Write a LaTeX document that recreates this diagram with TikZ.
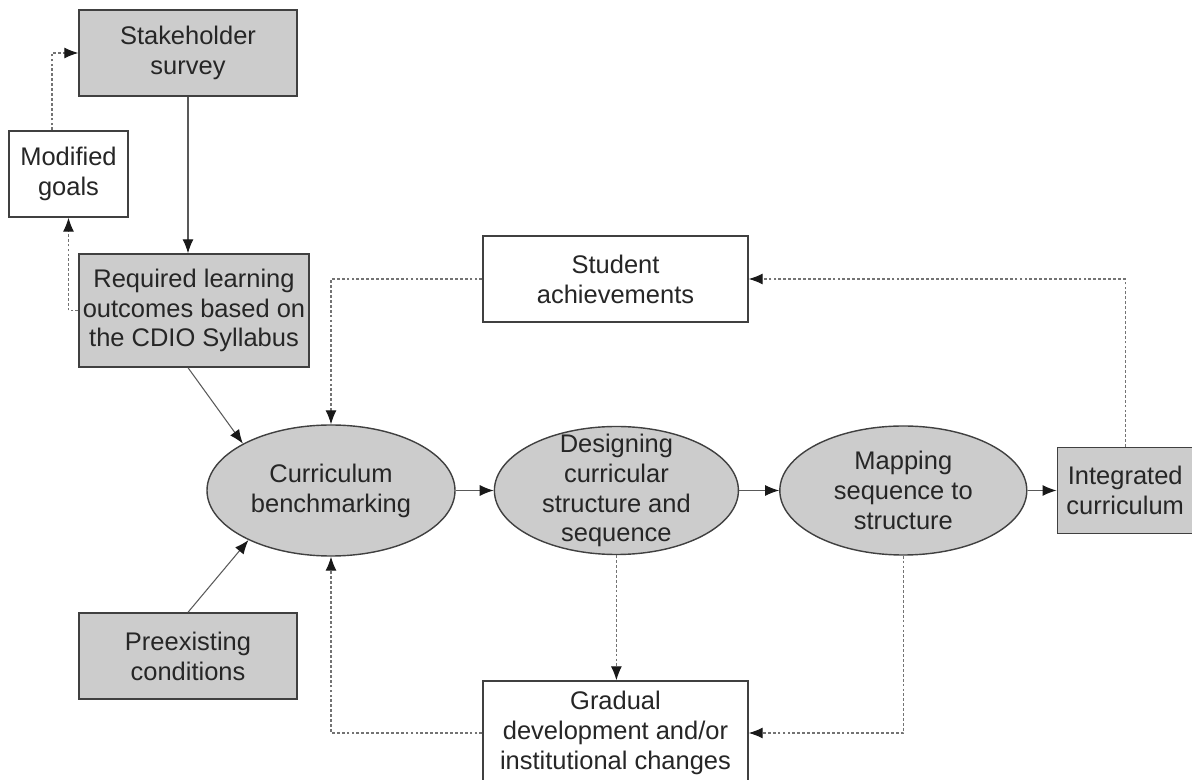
\documentclass[tikz,border=0pt]{standalone}
\usepackage{fontspec}
\setmainfont{Liberation Sans}
\usepackage{tikz}
\usetikzlibrary{positioning, shapes.geometric, arrows.meta}
\definecolor{boxgray}{RGB}{204,204,204}
\definecolor{edgegray}{RGB}{64,64,64}
\tikzset{
    gbox/.style={rectangle, draw=edgegray, fill=boxgray, line width=0.8pt, align=center, inner sep=0pt, text=black!85, font=\fontsize{14.5}{17}\selectfont},
    wbox/.style={rectangle, draw=edgegray, fill=white, line width=0.8pt, align=center, inner sep=0pt, text=black!85, font=\fontsize{14.5}{17}\selectfont},
    oval/.style={ellipse, draw=edgegray, fill=boxgray, line width=0.8pt, align=center, inner xsep=0pt, inner ysep=-12pt, text=black!85, font=\fontsize{14.5}{17}\selectfont},
    arr/.style={-{Latex[length=2.8mm,width=2.2mm,color=black!90]}, draw=black!65, line width=0.6pt},
    darr/.style={-{Latex[length=2.8mm,width=2.2mm,color=black!90]}, draw=black!55, line width=0.6pt, dash pattern=on 1.6pt off 1.2pt},
}

\begin{document}
\begin{tikzpicture}
    \useasboundingbox (0,0) rectangle (23.84,-15.6);
    \node [gbox, minimum width=4.36cm, minimum height=1.72cm] (survey) at (3.76,-1.06) {Stakeholder\\survey};
    \node [wbox, minimum width=2.38cm, minimum height=1.72cm] (goals) at (1.37,-3.48) {Modified\\goals};
    \node [gbox, minimum width=4.6cm, minimum height=2.26cm] (outcomes) at (3.88,-6.21) {Required learning\\outcomes based on\\the CDIO Syllabus};
    \node [oval, minimum width=4.96cm, minimum height=2.62cm] (bench) at (6.62,-9.81) {Curriculum\\benchmarking};
    \node [oval, minimum width=4.88cm, minimum height=2.56cm] (design) [right=0.76cm of bench] {Designing\\curricular\\structure and\\sequence};
    \node [oval, minimum width=4.94cm, minimum height=2.58cm] (mapping) [right=0.8cm of design] {Mapping\\sequence to\\structure};
    \node [gbox, minimum width=2.72cm, minimum height=1.72cm] (integ) [right=0.58cm of mapping] {Integrated\\curriculum};
    \node [wbox, minimum width=5.3cm, minimum height=1.72cm] (achieve) at (12.31,-5.58) {Student\\achievements};
    \node [gbox, minimum width=4.36cm, minimum height=1.72cm] (preexist) at (3.76,-13.12) {Preexisting\\conditions};
    \node [wbox, minimum width=5.3cm, minimum height=2.08cm] (gradual) at (12.31,-14.66) {Gradual\\development and/or\\institutional changes};
    % solid flow
    \draw[arr] (survey.south) -- (survey.south |- outcomes.north);
    \draw[arr] ([xshift=-0.12cm]outcomes.south) -- (bench.152);
    \draw[arr] (preexist.north) -- (bench.211);
    \draw[arr] (bench) -- (design);
    \draw[arr] (design) -- (mapping);
    \draw[arr] (mapping) -- (integ);
    % feedback
    \draw[darr] (outcomes.west) -| (goals.south);
    \draw[darr] ([xshift=-0.33cm]goals.north) |- (survey.west);
    \draw[darr] (integ.north) |- (achieve.east);
    \draw[darr] (achieve.west) -| (bench.north);
    \draw[darr] (design.south) -- (design.south |- gradual.north);
    \draw[darr] (mapping.south) |- (gradual.east);
    \draw[darr] (gradual.west) -| (bench.south);
\end{tikzpicture}
\end{document}
